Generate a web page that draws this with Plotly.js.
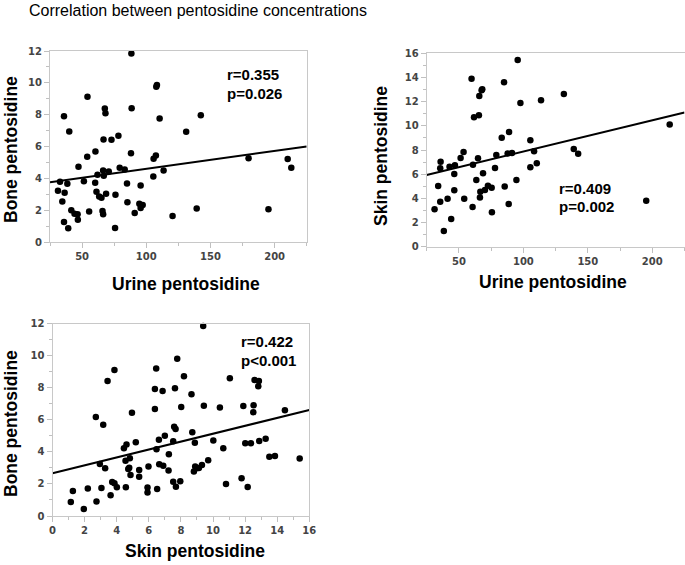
<!DOCTYPE html>
<html>
<head>
<meta charset="utf-8">
<script src="https://cdn.plot.ly/plotly-3.0.1.min.js"></script>
<style>html,body{margin:0;padding:0;background:#fff;}#chart{width:685px;height:565px;}</style>
</head>
<body>
<div id="chart"></div>
<script>
// ---- Data: Urine vs Bone pentosidine ----
const urineA = [88.4,107.8,108.3,54.2,35.9,67.7,68.2,88.6,110.4,142.5,40.0,131.1,66.7,72.9,78.3,60.4,54.0,88.1,107.5,105.7,47.2,66.4,70.8,62.0,66.9,79.3,83.2,113.5,105.5,32.8,38.5,51.4,60.2,85.0,95.6,31.2,36.4,61.2,68.7,76.0,63.3,65.1,34.6,85.3,94.6,97.2,95.6,41.6,55.5,65.9,66.4,44.1,46.5,46.7,91.0,120.5,139.3,35.9,39.2,75.7,179.7,210.2,213.0,195.2];
const boneA = [11.85,9.76,9.87,9.12,7.90,8.38,8.09,8.40,7.76,7.97,6.94,6.92,6.44,6.42,6.67,5.69,5.35,5.58,5.44,5.23,4.73,4.50,4.43,4.22,4.16,4.66,4.56,4.50,4.12,3.78,3.66,3.81,3.72,3.68,3.55,3.22,3.09,3.16,3.03,2.97,2.86,2.78,2.55,2.49,2.40,2.32,2.13,1.99,1.92,1.94,1.74,1.78,1.74,1.40,1.82,1.63,2.11,1.25,0.86,0.88,5.26,5.21,4.67,2.05];
const fitAx = [25, 225];
const fitAy = [3.75, 6.0];

// ---- Data: Urine vs Skin pentosidine ----
const urineB = [31.1,33.9,35.8,35.5,35.5,38.3,41.2,42.7,44.0,46.4,46.4,46.9,51.3,53.6,54.1,59.8,60.9,60.6,61.7,63.5,64.8,65.5,65.8,67.6,68.1,66.6,66.3,68.7,70.2,72.5,75.4,75.6,78.0,79.0,83.2,85.0,85.5,88.6,88.9,87.8,91.2,94.6,95.6,97.7,105.4,105.4,108.3,110.4,113.7,131.4,139.1,142.5,195.3,213.5];
const skinB = [3.09,5.02,7.03,6.48,3.72,1.30,3.97,6.62,2.29,6.01,4.66,6.73,7.34,7.83,3.97,13.90,6.79,3.28,10.70,5.52,7.31,10.87,12.47,12.94,13.02,4.55,4.08,6.07,4.69,5.05,4.88,2.84,6.51,7.59,9.02,13.60,4.99,3.53,9.49,7.72,7.75,5.52,15.45,11.89,8.80,6.57,7.89,6.90,12.11,12.63,8.08,7.70,3.81,10.10];
const fitBx = [25, 225];
const fitBy = [5.93, 11.1];

// ---- Data: Skin vs Bone pentosidine ----
const skinC = [1.14,1.27,1.95,2.20,2.74,2.70,3.16,2.95,3.28,3.05,3.43,3.86,3.62,3.72,3.86,4.01,4.45,4.61,4.55,4.57,4.72,4.82,4.78,4.86,4.95,5.19,5.40,5.40,5.92,5.92,5.98,6.38,6.38,6.46,6.48,6.52,6.63,6.65,6.86,6.90,7.00,7.23,7.25,7.52,7.63,7.52,7.58,7.67,7.69,7.77,8.02,7.96,8.19,8.66,8.71,8.81,8.87,8.89,8.98,9.12,9.31,9.39,9.43,9.70,10.02,10.43,10.64,10.81,11.05,11.78,11.89,12.01,12.16,12.36,12.53,12.51,12.59,12.86,12.82,12.88,13.28,13.51,13.86,14.48,15.40];
const boneC = [0.87,1.56,0.44,1.72,0.91,6.17,5.69,3.24,2.97,1.75,8.41,9.10,1.29,2.12,2.04,1.79,4.22,4.45,3.45,1.79,2.93,3.60,3.01,2.56,6.44,4.59,2.87,2.45,1.77,1.46,3.08,6.67,7.92,9.19,4.16,1.68,4.76,3.22,7.80,3.14,5.01,2.83,3.85,2.14,7.96,4.66,5.57,5.43,1.83,9.81,6.80,2.16,8.71,7.59,5.22,2.77,4.57,3.08,2.97,2.99,3.18,11.85,6.88,3.47,4.70,6.76,4.22,2.00,8.59,2.35,6.86,4.53,1.81,4.53,6.90,6.47,8.48,8.42,8.09,4.68,4.82,3.70,3.74,6.59,3.58];
const fitCx = [0, 16];
const fitCy = [2.66, 6.61];

const stats = [["r=0.355","p=0.026"],["r=0.409","p=0.002"],["r=0.422","p<0.001"]];
const chartTitle = "Correlation between pentosidine concentrations";

// ---- Layout helpers ----
const W = 685, H = 565;
const px = v => v / W;
const py = v => 1 - v / H;

function axis(domain, range, dtick, minor, anchor) {
  return {
    domain: domain, range: range, dtick: dtick, tick0: 0,
    ticks: 'outside', ticklen: 5, tickcolor: '#c0c0c0', tickwidth: 1,
    showline: true, linecolor: '#c8c8c8', linewidth: 1, mirror: true,
    showgrid: false, zeroline: false, anchor: anchor, fixedrange: true,
    minor: {dtick: minor, ticks: 'outside', ticklen: 3, tickcolor: '#c0c0c0', showgrid: false},
    tickfont: {family: 'DejaVu Sans', size: 10, color: '#444', weight: 'bold'}
  };
}

const mk = {color: '#000', size: 6.5};
const ln = {color: '#000', width: 2};
const traces = [
  {x: urineA, y: boneA, mode: 'markers', type: 'scatter', marker: mk, xaxis: 'x', yaxis: 'y', cliponaxis: false},
  {x: fitAx, y: fitAy, mode: 'lines', type: 'scatter', line: ln, xaxis: 'x', yaxis: 'y'},
  {x: urineB, y: skinB, mode: 'markers', type: 'scatter', marker: mk, xaxis: 'x2', yaxis: 'y2', cliponaxis: false},
  {x: fitBx, y: fitBy, mode: 'lines', type: 'scatter', line: ln, xaxis: 'x2', yaxis: 'y2'},
  {x: skinC, y: boneC, mode: 'markers', type: 'scatter', marker: mk, xaxis: 'x3', yaxis: 'y3', cliponaxis: false},
  {x: fitCx, y: fitCy, mode: 'lines', type: 'scatter', line: ln, xaxis: 'x3', yaxis: 'y3'}
];

const tFont = {family: 'Liberation Sans, Arial', size: 17.5, color: '#000', weight: 'bold'};
const sFont = {family: 'Liberation Sans, Arial', size: 15, color: '#000', weight: 'bold'};

function note(text, x, y, font, xanchor, angle) {
  return {text: text, xref: 'paper', yref: 'paper', x: px(x), y: py(y), showarrow: false,
          xanchor: xanchor || 'center', yanchor: 'middle', font: font, textangle: angle || 0};
}

const annotations = [
  note(chartTitle, 27, 11, {family: 'Liberation Sans, Arial', size: 16, color: '#000'}, 'left'),
  note('Bone pentosidine', 11, 150, tFont, 'center', -90),
  note('Urine pentosidine', 186, 284, tFont, 'center'),
  note('Skin pentosidine', 381, 156, tFont, 'center', -90),
  note('Urine pentosidine', 553, 282, tFont, 'center'),
  note('Bone pentosidine', 11, 424, tFont, 'center', -90),
  note('Skin pentosidine', 195, 551, tFont, 'center'),
  note(stats[0][0], 225, 74.5, sFont, 'left'),
  note(stats[0][1], 225, 93.5, sFont, 'left'),
  note(stats[1][0], 557, 188.5, sFont, 'left'),
  note(stats[1][1], 557, 206.5, sFont, 'left'),
  note(stats[2][0], 239, 341.5, sFont, 'left'),
  note(stats[2][1], 239, 360, sFont, 'left')
];

const layout = {
  width: W, height: H,
  margin: {l: 0, r: 0, t: 0, b: 0},
  paper_bgcolor: '#fff', plot_bgcolor: '#fff',
  showlegend: false,
  font: {family: 'Liberation Sans, Arial'},
  xaxis: axis([px(50), px(306.7)], [25, 225], 50, 25, 'y'),
  yaxis: axis([py(242), py(51)], [0, 12], 2, 1, 'x'),
  xaxis2: axis([px(426.7), px(684.5)], [25, 225], 50, 25, 'y2'),
  yaxis2: axis([py(246.7), py(53.3)], [0, 16], 2, 1, 'x2'),
  xaxis3: axis([px(52.5), px(309.3)], [0, 16], 2, 1, 'y3'),
  yaxis3: axis([py(516), py(323.5)], [0, 12], 2, 1, 'x3'),
  annotations: annotations
};

Plotly.newPlot('chart', traces, layout, {staticPlot: true, displayModeBar: false});
</script>
</body>
</html>
